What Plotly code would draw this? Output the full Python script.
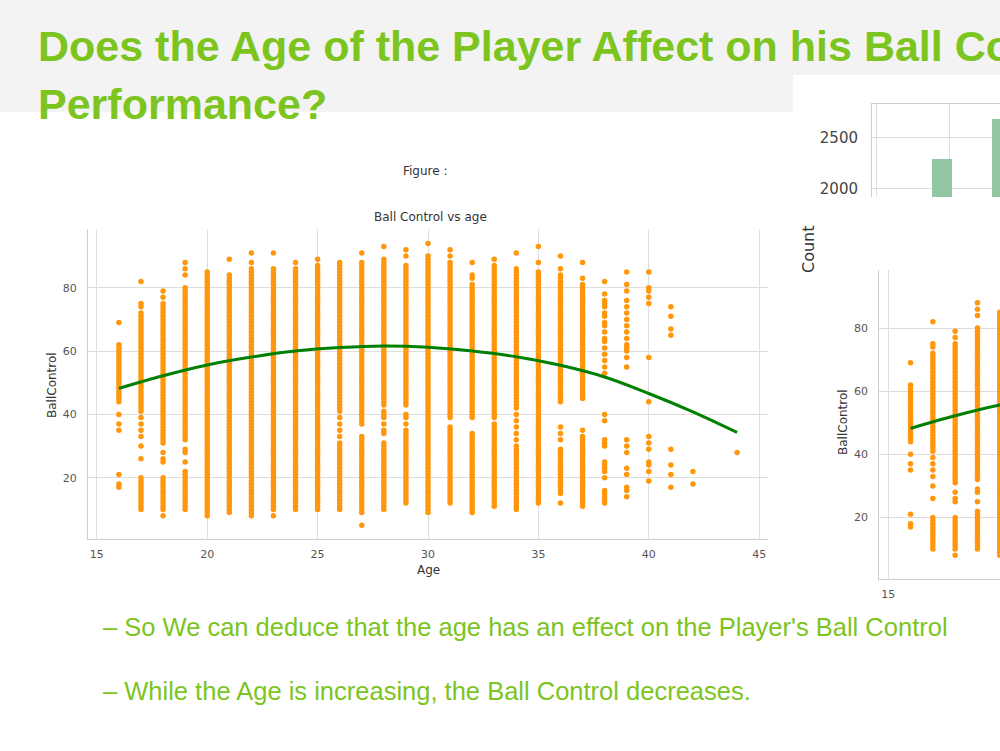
import plotly.graph_objects as go

# ---------------- data ----------------
# Ball Control values seen in each age column; a tuple (lo, hi) means every integer score lo..hi is present
bc_age16 = [69, (44, 62), 40, 37, 35, 21, 18, 17]
bc_age17 = [82, 75, 74, (41, 72), 39, 37, 35, 33, 30, 26, (10, 20)]
bc_age18 = [79, 77, (31, 75), 28, 26, 25, (10, 20), 8]
bc_age19 = [88, 86, 84, (32, 80), 29, 28, 25, (10, 22)]
bc_age20 = [(8, 85)]
bc_age21 = [89, (9, 84)]
bc_age22 = [91, 88, (8, 86)]
bc_age23 = [91, (10, 86), 8]
bc_age24 = [88, (10, 86)]
bc_age25 = [89, (10, 87)]
bc_age26 = [(41, 88), 39, 37, 35, 33, (10, 31)]
bc_age27 = [91, (37, 88), (9, 33), 5]
bc_age28 = [93, (43, 89), 41, 40, 39, 37, 35, 34, (10, 31)]
bc_age29 = [92, 90, (43, 87), 40, 39, 37, (12, 35)]
bc_age30 = [94, (9, 90)]
bc_age31 = [92, 90, (39, 88), (12, 36)]
bc_age32 = [88, 84, 83, (39, 81), (9, 34)]
bc_age33 = [89, (39, 87), (11, 37)]
bc_age34 = [91, (42, 86), 40, 38, 36, 34, 32, (10, 30)]
bc_age35 = [93, 88, (12, 85)]
bc_age36 = [90, 86, (44, 84), 36, 34, 32, (15, 29), 12]
bc_age37 = [88, 83, (45, 81), 35, (11, 33)]
bc_age38 = [82, 78, 76, 75, 74, 72, 71, 69, 68, 66, 64, 63, 61, 59, 57, 55, 53,
            40, 38, 32, 31, 30, 25, 24, 23, 22, 20, 16, 15, 14, 13, 12]
bc_age39 = [85, 81, 79, 76, 74, 72, 70, 68, 66, 64, 62, 61, 60, 58, 55,
            32, 30, 28, 23, 21, 17, 16, 14]
bc_age40 = [85, 80, 79, 77, 75, 58, 44, 33, 31, 29, 25, 24, 22, 19]
bc_age41 = [74, 71, 67, 65, 29, 24, 21, 17]
bc_age42 = [22, 18]
bc_age44 = [28]

ages = [16, 17, 18, 19, 20, 21, 22, 23, 24, 25, 26, 27, 28, 29, 30,
        31, 32, 33, 34, 35, 36, 37, 38, 39, 40, 41, 42, 44]
columns = [bc_age16, bc_age17, bc_age18, bc_age19, bc_age20, bc_age21, bc_age22,
           bc_age23, bc_age24, bc_age25, bc_age26, bc_age27, bc_age28, bc_age29,
           bc_age30, bc_age31, bc_age32, bc_age33, bc_age34, bc_age35, bc_age36,
           bc_age37, bc_age38, bc_age39, bc_age40, bc_age41, bc_age42, bc_age44]

# fitted (order 2) regression curve, read at even ages
fit_age = [16, 18, 20, 22, 24, 26, 28, 30, 32, 34, 36, 38, 40, 42, 44]
fit_bc = [48.2, 52.2, 55.6, 58.1, 60.0, 61.1, 61.6, 61.2, 60.0, 58.2, 55.5, 51.8, 46.6, 40.8, 34.3]

# partly hidden count bars (top right)
bar_pos = [1, 2]
bar_count = [2290, 2680]

x_ticks = [15, 20, 25, 30, 35, 40, 45]
y_ticks = [20, 40, 60, 80]
count_ticks = [2000, 2500]

# ---------------- expand columns ----------------
xs, ys = [], []
for a, col in zip(ages, columns):
    for v in col:
        if isinstance(v, tuple):
            for k in range(v[0], v[1] + 1):
                xs.append(a); ys.append(k)
        else:
            xs.append(a); ys.append(v)

GREEN_TXT = '#7cc41e'
ORANGE = '#ff960c'
FIT = '#008000'
GRID = '#dedede'
SPINE = '#cfcfcf'
TICKC = '#555555'
MPL_FONT = 'DejaVu Sans'
W, H = 1000, 751


def py(p):
    return 1 - p / H


def px(p):
    return p / W


fig = go.Figure()

# main scatter
fig.add_trace(go.Scatter(x=xs, y=ys, mode='markers', xaxis='x', yaxis='y',
                         marker=dict(color=ORANGE, size=5.5, line=dict(width=0)),
                         showlegend=False, hoverinfo='skip'))
fig.add_trace(go.Scatter(x=fit_age, y=fit_bc, mode='lines', xaxis='x', yaxis='y',
                         line=dict(color=FIT, width=3, shape='spline'),
                         showlegend=False, hoverinfo='skip'))
# second (cropped) copy on the right
fig.add_trace(go.Scatter(x=xs, y=ys, mode='markers', xaxis='x2', yaxis='y2',
                         marker=dict(color=ORANGE, size=5.5, line=dict(width=0)),
                         showlegend=False, hoverinfo='skip'))
fig.add_trace(go.Scatter(x=fit_age, y=fit_bc, mode='lines', xaxis='x2', yaxis='y2',
                         line=dict(color=FIT, width=3, shape='spline'),
                         showlegend=False, hoverinfo='skip'))
# bars
fig.add_trace(go.Bar(x=bar_pos, y=bar_count, xaxis='x3', yaxis='y3', width=0.32,
                     marker=dict(color='#93c6a3', line=dict(width=0)),
                     showlegend=False, hoverinfo='skip'))

inv = 'rgba(0,0,0,0)'
axis_common = dict(showgrid=True, gridcolor=GRID, gridwidth=1, zeroline=False,
                   tickfont=dict(family=MPL_FONT, size=11, color=TICKC),
                   ticks='outside', tickcolor=inv)

fig.update_layout(
    width=W, height=H,
    margin=dict(l=0, r=0, t=0, b=0),
    paper_bgcolor='white', plot_bgcolor='white',
    xaxis=dict(domain=[px(88), px(768)], range=[14.6, 45.4], tickvals=x_ticks,
               showline=True, linecolor=SPINE, ticklen=4, anchor='y', **axis_common),
    yaxis=dict(domain=[py(539.3), py(229.3)], range=[0.55, 98.45], tickvals=y_ticks,
               showline=True, linecolor=SPINE, ticklen=8, anchor='x', **axis_common),
    xaxis2=dict(domain=[px(879.3), 1.0], range=[14.6, 20.01], tickvals=x_ticks,
                showline=True, linecolor=SPINE, ticklen=4, anchor='y2', **axis_common),
    yaxis2=dict(domain=[py(579.3), py(270)], range=[0.4, 98.4], tickvals=y_ticks,
                showline=True, linecolor=SPINE, ticklen=8, anchor='x2', **axis_common),
    xaxis3=dict(domain=[px(872), 1.0], range=[-0.1667, 1.967], tickvals=[-0.1, 1.117],
                showticklabels=False, showline=True, linecolor=SPINE, side='top',
                anchor='y3', showgrid=True, gridcolor=GRID, zeroline=False, ticks=''),
    yaxis3=dict(domain=[py(197), py(104.3)], range=[1914, 2830], tickvals=count_ticks,
                showline=True, linecolor=SPINE, anchor='x3', showgrid=True, gridcolor=GRID,
                zeroline=False, ticks='outside', tickcolor=inv, ticklen=10,
                tickfont=dict(family=MPL_FONT, size=15, color='#444444')),
    bargap=0,
)

# slide header background
fig.add_shape(type='rect', xref='paper', yref='paper', x0=0, x1=px(793), y0=py(112), y1=1,
              fillcolor='#f3f3f3', line=dict(width=0), layer='below')
fig.add_shape(type='rect', xref='paper', yref='paper', x0=px(793), x1=1, y0=py(75), y1=1,
              fillcolor='#f3f3f3', line=dict(width=0), layer='below')


def note(text, x, y, size, color, family=MPL_FONT, xanchor='center', angle=0, weight=None):
    f = dict(family=family, size=size, color=color)
    if weight:
        f['weight'] = weight
    fig.add_annotation(text=text, x=px(x), y=py(y), xref='paper', yref='paper',
                       xanchor=xanchor, yanchor='middle', showarrow=False,
                       textangle=angle, font=f)


TITLE_FONT = 'Liberation Sans, Arial, sans-serif'
note('Does the Age of the Player Affect on his Ball Control', 36, 46, 43, GREEN_TXT,
     family=TITLE_FONT, xanchor='left', weight=700)
note('Performance?', 36, 104, 43, GREEN_TXT, family=TITLE_FONT, xanchor='left', weight=700)

note('Figure :', 425, 171, 12, '#333333')
note('Ball Control vs age', 430, 217, 12, '#333333')
note('Age', 428, 570, 12, '#333333')
note('BallControl', 52, 385, 12, '#333333', angle=-90)
note('BallControl', 843, 422, 12, '#333333', angle=-90)
note('Count', 808, 249, 16, '#333333', angle=-90)

note("– So We can deduce that the age has an effect on the Player's Ball Control", 101, 627, 25.5,
     GREEN_TXT, family=TITLE_FONT, xanchor='left')
note('– While the Age is increasing, the Ball Control decreases.', 101, 691, 25.5,
     GREEN_TXT, family=TITLE_FONT, xanchor='left')

fig.write_html('out.html')
